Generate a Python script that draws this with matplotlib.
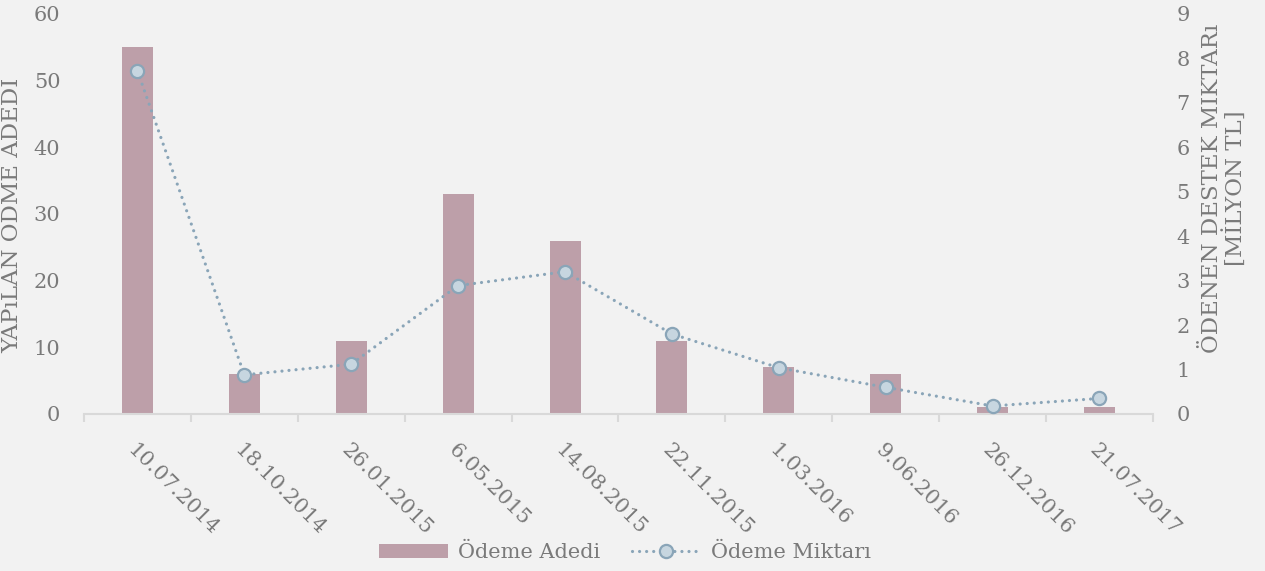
import matplotlib.pyplot as plt
import numpy as np

dates = ['10.07.2014', '18.10.2014', '26.01.2015', '6.05.2015', '14.08.2015',
         '22.11.2015', '1.03.2016', '9.06.2016', '26.12.2016', '21.07.2017']
odeme_adedi = [55, 6, 11, 33, 26, 11, 7, 6, 1, 1]
odeme_miktari = [7.72, 0.88, 1.12, 2.89, 3.2, 1.8, 1.04, 0.6, 0.18, 0.35]

bg = '#f2f2f2'
txt = '#7a7a7a'
bar_col = '#bd9fa9'
line_col = '#8aa5b8'

plt.rcParams['font.family'] = ['DejaVu Serif']

fig = plt.figure(figsize=(12.65, 5.71), dpi=100, facecolor=bg)
ax = fig.add_axes([0.0664, 0.275, 0.845, 0.7005])
ax.set_facecolor(bg)
x = np.arange(len(dates))

bars = ax.bar(x, odeme_adedi, width=0.29, color=bar_col, zorder=2, label='Ödeme Adedi')
ax.set_ylim(0, 60)
ax.set_xlim(-0.5, len(dates) - 0.5)
ax.set_yticks(range(0, 61, 10))

ax2 = ax.twinx()
ln, = ax2.plot(x, odeme_miktari, linestyle=(0, (0.01, 2.2)), dash_capstyle='round',
               color=line_col, linewidth=2.3,
               marker='o', markersize=9.5, markerfacecolor='#c7d6e0',
               markeredgecolor=line_col, markeredgewidth=1.6, zorder=3,
               label='Ödeme Miktarı')
ax2.set_ylim(0, 9)
ax2.set_yticks(range(0, 10))

for a in (ax, ax2):
    for s in ('top', 'left', 'right'):
        a.spines[s].set_visible(False)
    a.tick_params(axis='y', length=0, labelsize=15, labelcolor=txt, pad=17)
ax2.spines['bottom'].set_visible(False)
ax.spines['bottom'].set_color('#d9d9d9')
ax.spines['bottom'].set_linewidth(1.5)

# category labels at centers, tick marks at boundaries
ax.set_xticks(x)
ax.set_xticklabels(dates, rotation=-45, ha='left', va='top', rotation_mode='anchor')
ax.tick_params(axis='x', which='major', length=0, labelsize=15, labelcolor=txt, pad=19)
ax.set_xticks(np.arange(-0.5, len(dates), 1), minor=True)
ax.tick_params(axis='x', which='minor', length=6, width=1.5, color='#d9d9d9')

ax.set_ylabel('YAPıLAN ÖDME ADEDI', fontsize=16.5, color=txt)
ax.yaxis.set_label_coords(-0.057, 0.4975)
ax2.set_ylabel('ÖDENEN DESTEK MIKTARı\n[MİLYON TL]', fontsize=16.5, color=txt,
               rotation=90, ha='center', va='center', linespacing=1.0)
ax2.yaxis.set_label_coords(1.0664, 0.565)

leg = fig.legend(handles=[bars, ln], loc='center', bbox_to_anchor=(0.494, 0.032),
                 ncol=2, frameon=False, fontsize=15, handlelength=3.3,
                 handleheight=0.6, columnspacing=1.5, handletextpad=0.5,
                 labelcolor=txt)

fig.savefig('out.png', dpi=100, facecolor=bg)
